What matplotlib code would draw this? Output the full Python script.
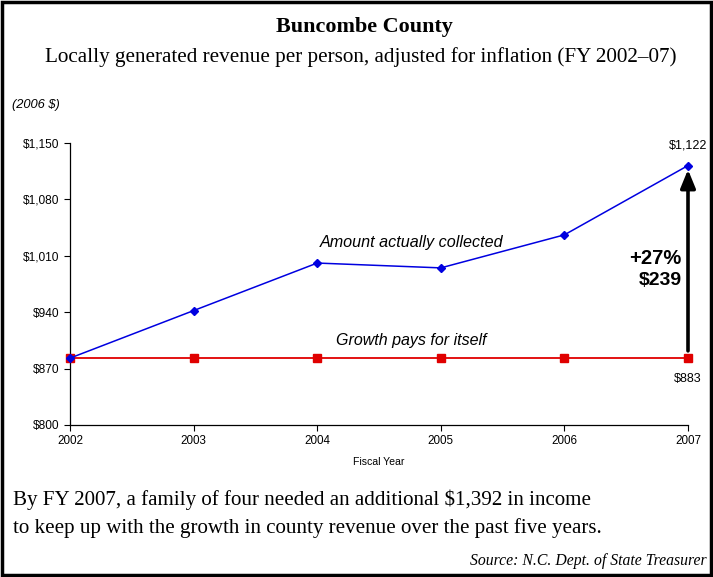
import matplotlib
matplotlib.use("Agg")
import matplotlib.pyplot as plt
from matplotlib.patches import Rectangle

years = [2002, 2003, 2004, 2005, 2006, 2007]
collected = [883, 942, 1001, 995, 1036, 1122]
growth_pays = [883, 883, 883, 883, 883, 883]
y_ticks = [800, 870, 940, 1010, 1080, 1150]

serif = "Liberation Serif"
sans = "Liberation Sans"

fig = plt.figure(figsize=(7.13, 5.77), dpi=100)
ax = fig.add_axes([70 / 713, 1 - 425 / 577, 618 / 713, 282 / 577])

ax.plot(years, growth_pays, color="#e00000", linewidth=1.3, marker="s",
        markersize=6, markeredgecolor="#e00000", clip_on=False, zorder=3)
ax.plot(years, collected, color="#0000e0", linewidth=1.1, marker="D",
        markersize=4, clip_on=False, zorder=4)

ax.set_xlim(2002, 2007)
ax.set_ylim(800, 1150)
ax.set_xticks(years)
ax.set_yticks(y_ticks)
ax.set_yticklabels([f"${v:,}" for v in y_ticks], fontfamily=sans, fontsize=8.6)
ax.set_xticklabels([str(y) for y in years], fontfamily=sans, fontsize=8.4)
ax.tick_params(direction="out", length=4, width=0.8, colors="black")
for s in ["top", "right"]:
    ax.spines[s].set_visible(False)
for s in ["left", "bottom"]:
    ax.spines[s].set_linewidth(0.9)
ax.set_xlabel("Fiscal Year", fontfamily=sans, fontsize=7.6, labelpad=7)

# annotations
ax.annotate("", xy=(2007, collected[-1] - 5), xytext=(2007, growth_pays[-1] + 9),
            arrowprops=dict(arrowstyle="-|>,head_width=0.45,head_length=1.1",
                            color="black", linewidth=2.6, shrinkA=0, shrinkB=0))
ax.text(2007, collected[-1] + 25, f"${collected[-1]:,}", fontfamily=sans, fontsize=9,
        ha="center", va="center")
ax.text(2007, growth_pays[-1] - 26, f"${growth_pays[-1]:,}", fontfamily=sans, fontsize=9,
        ha="center", va="center")
ax.text(2006.95, 1007, "+27%", fontfamily=sans, fontsize=14.5, fontweight="bold",
        ha="right", va="center")
ax.text(2006.95, 979, "$239", fontfamily=sans, fontsize=14, fontweight="bold",
        ha="right", va="center")
ax.text(2004.76, 1026, "Amount actually collected", fontfamily=sans, fontsize=11.6,
        style="italic", ha="center", va="center")
ax.text(2004.76, 905, "Growth pays for itself", fontfamily=sans, fontsize=11.5,
        style="italic", ha="center", va="center")

# header / footer text
fig.text(364 / 713, 1 - 27 / 577, "Buncombe County", fontfamily=serif, fontsize=15.9,
         fontweight="bold", ha="center", va="center")
fig.text(361 / 713, 1 - 57 / 577,
         "Locally generated revenue per person, adjusted for inflation (FY 2002\u201307)",
         fontfamily=serif, fontsize=15.2, ha="center", va="center")
fig.text(12 / 713, 1 - 105 / 577, "(2006 $)", fontfamily=sans, fontsize=9.3,
         style="italic", ha="left", va="center")
fig.text(13 / 713, 1 - 500 / 577,
         "By FY 2007, a family of four needed an additional $1,392 in income",
         fontfamily=serif, fontsize=15.1, ha="left", va="center")
fig.text(13 / 713, 1 - 528 / 577,
         "to keep up with the growth in county revenue over the past five years.",
         fontfamily=serif, fontsize=15.1, ha="left", va="center")
fig.text(707 / 713, 1 - 561 / 577, "Source: N.C. Dept. of State Treasurer",
         fontfamily=serif, fontsize=11.3, style="italic", ha="right", va="center")

fig.patches.append(Rectangle((0.003, 0.003), 0.994, 0.993, transform=fig.transFigure,
                             fill=False, edgecolor="black", linewidth=2.5))

fig.savefig("out.png", dpi=100)
